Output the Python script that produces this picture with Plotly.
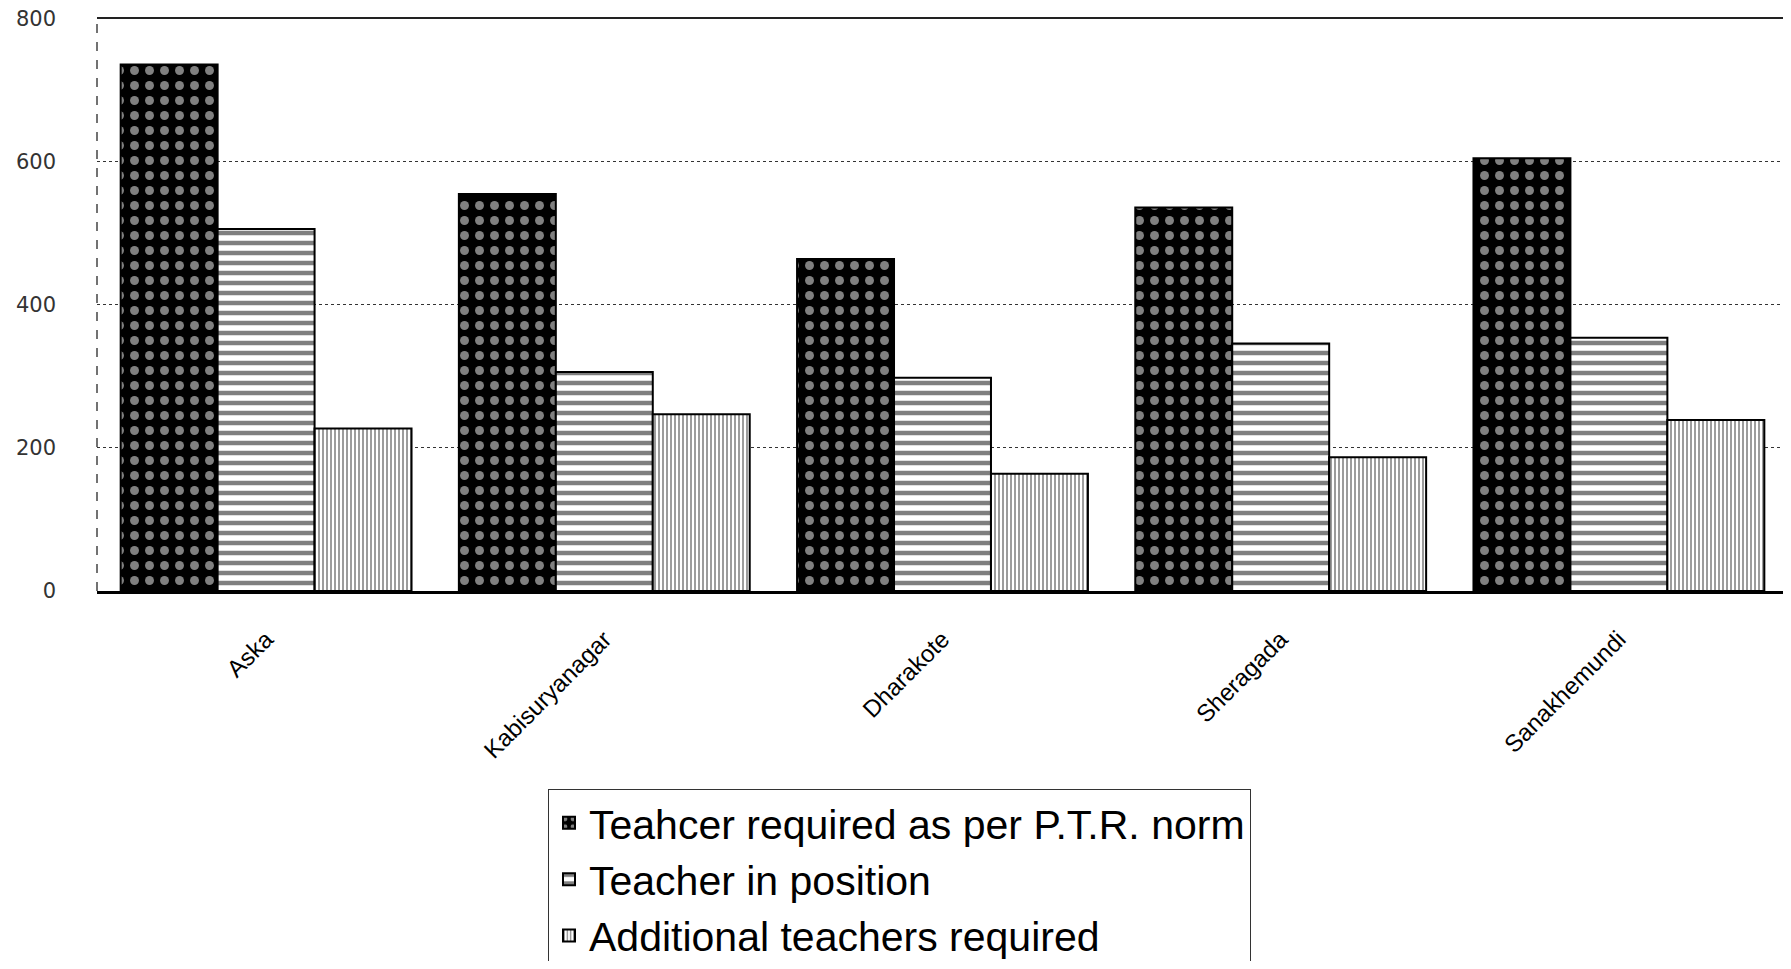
import plotly.graph_objects as go

categories = ["Aska", "Kabisuryanagar", "Dharakote", "Sheragada", "Sanakhemundi"]
required = [736, 555, 464, 536, 605]
in_position = [506, 306, 298, 346, 354]
additional = [227, 247, 164, 187, 239]
series_names = ["Teahcer required as per P.T.R. norm", "Teacher in position", "Additional teachers required"]
y_ticks = [0, 200, 400, 600, 800]

fig = go.Figure()
fig.add_trace(go.Bar(
    x=categories, y=required, name=series_names[0],
    marker=dict(color="black", line=dict(color="black", width=2),
                pattern=dict(shape=".", bgcolor="black", fgcolor="white", size=15, solidity=0.28)),
))
fig.add_trace(go.Bar(
    x=categories, y=in_position, name=series_names[1],
    marker=dict(color="white", line=dict(color="black", width=2),
                pattern=dict(shape="-", bgcolor="white", fgcolor="black", size=10, solidity=0.45)),
))
fig.add_trace(go.Bar(
    x=categories, y=additional, name=series_names[2],
    marker=dict(color="white", line=dict(color="black", width=2),
                pattern=dict(shape="|", bgcolor="white", fgcolor="#222", size=4, solidity=0.45)),
))

# plot frame: solid top, dashed sides
fig.add_shape(type="line", xref="paper", yref="paper", x0=0, x1=1, y0=1, y1=1,
              line=dict(color="#222", width=2))
fig.add_shape(type="line", xref="paper", yref="paper", x0=0, x1=0, y0=0, y1=1,
              line=dict(color="#444", width=1.5, dash="dash"))
fig.add_shape(type="line", xref="paper", yref="paper", x0=0.999, x1=0.999, y0=0, y1=1,
              line=dict(color="#444", width=1.5, dash="dash"))

fig.update_layout(
    width=1780, height=953,
    margin=dict(l=89, r=0, t=10, b=370, autoexpand=False),
    paper_bgcolor="white", plot_bgcolor="white",
    barmode="group", bargap=0.14, bargroupgap=0,
    font=dict(family="Liberation Sans, Arial, sans-serif", color="black"),
    showlegend=True,
    legend=dict(
        x=0.2667, y=-0.345, xanchor="left", yanchor="top",
        orientation="v", bordercolor="#333", borderwidth=1,
        font=dict(size=41, color="black", family="Liberation Sans, Arial, sans-serif"),
        itemsizing="constant", tracegroupgap=0,
    ),
    xaxis=dict(
        tickangle=-45, tickfont=dict(size=24, color="black"),
        ticklabelstandoff=22,
        showline=True, linecolor="black", linewidth=2.5,
        showgrid=False, ticks="",
    ),
    yaxis=dict(
        range=[0, 801], tickvals=y_ticks,
        tickfont=dict(size=21, color="#333", family="DejaVu Sans, sans-serif"),
        ticklabelstandoff=40, ticklabeloverflow="allow",
        showgrid=True, gridcolor="#333", gridwidth=1, griddash="dot",
        zeroline=False, showline=False, ticks="",
    ),
)

fig.write_html("out.html")
